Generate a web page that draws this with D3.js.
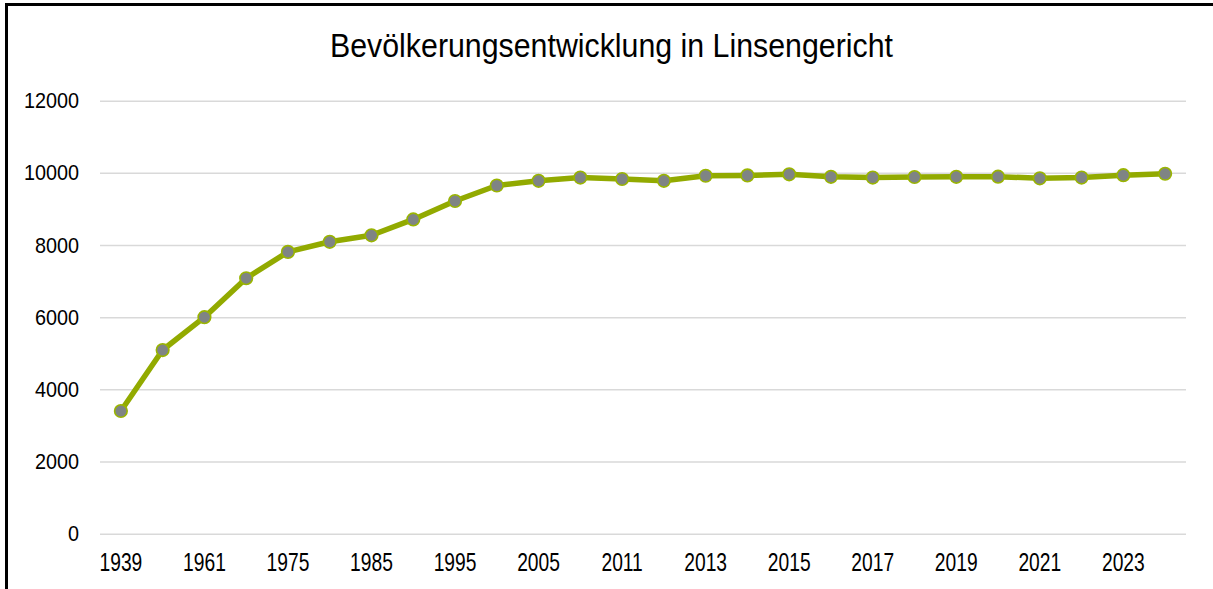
<!DOCTYPE html>
<html>
<head>
<meta charset="utf-8">
<script src="https://cdn.jsdelivr.net/npm/d3@7"></script>
<style>
  body { margin: 0; background: #fff; }
  svg text { font-family: "Liberation Sans", Arial, sans-serif; fill: #000; }
</style>
</head>
<body>
<svg id="chart"></svg>
<script>
const years = ["1939", "1946", "1961", "1970", "1975", "1980", "1985", "1990", "1995", "2000", "2005", "2010",
  "2011", "2012", "2013", "2014", "2015", "2016", "2017", "2018", "2019", "2020", "2021", "2022", "2023", "2024"];
const population = [3400, 5090, 6000, 7080, 7810, 8090, 8270, 8710, 9220, 9650, 9780, 9870,
  9830, 9780, 9920, 9930, 9960, 9890, 9870, 9885, 9890, 9895, 9850, 9870, 9935, 9975];
const yTicks = [0, 2000, 4000, 6000, 8000, 10000, 12000];

const width = 1213;
const height = 589;
const margin = { top: 100.7, right: 27, bottom: 55.3, left: 100 };

const svg = d3.select("#chart").attr("width", width).attr("height", height);

// squeeze text horizontally, Arial Narrow look
function narrow(sel, factor) {
    sel.each(function () {
        const w = this.getComputedTextLength();
        d3.select(this).attr("textLength", w * factor).attr("lengthAdjust", "spacingAndGlyphs");
    });
}

// frame (top + left only)
svg.append("line").attr("x1", 5).attr("x2", width).attr("y1", 4.5).attr("y2", 4.5)
  .attr("stroke", "#000").attr("stroke-width", 3);
svg.append("line").attr("x1", 6.5).attr("x2", 6.5).attr("y1", 3).attr("y2", height)
  .attr("stroke", "#000").attr("stroke-width", 3);

svg.append("text")
  .attr("x", 611.5).attr("y", 57)
  .attr("text-anchor", "middle")
  .style("font-size", "32.5px")
  .attr("textLength", 563)
  .attr("lengthAdjust", "spacingAndGlyphs")
  .text("Bevölkerungsentwicklung in Linsengericht");

const x = d3.scaleBand().domain(years).range([margin.left, width - margin.right]);
const y = d3.scaleLinear().domain([0, 12000]).range([height - margin.bottom, margin.top]);

// gridlines
svg.append("g")
  .attr("transform", `translate(${margin.left},0)`)
  .call(d3.axisLeft(y).tickValues(yTicks).tickSize(-(width - margin.right - margin.left)).tickFormat(""))
  .call(g => g.select(".domain").remove())
  .call(g => g.selectAll("line").attr("stroke", "#d9d9d9").attr("stroke-width", 1.5));

// y labels
svg.append("g")
  .attr("transform", `translate(${margin.left},0)`)
  .call(d3.axisLeft(y).tickValues(yTicks).tickSize(0).tickPadding(21).tickFormat(d3.format("d")))
  .call(g => g.select(".domain").remove())
  .call(g => g.selectAll("text").style("font-size", "22px").call(narrow, 0.9));

// x labels (every second category)
svg.append("g")
  .attr("transform", `translate(0,${height - margin.bottom})`)
  .call(d3.axisBottom(x).tickSize(0).tickPadding(20)
    .tickFormat((d, i) => i % 2 === 0 ? d : ""))
  .call(g => g.select(".domain").remove())
  .call(g => g.selectAll("text").style("font-size", "25px").call(narrow, 0.77));

const cx = d => x(d) + x.bandwidth() / 2;

svg.append("path")
  .datum(years)
  .attr("fill", "none")
  .attr("stroke", "#92aa00")
  .attr("stroke-width", 5.5)
  .attr("stroke-linejoin", "round")
  .attr("d", d3.line().x(d => cx(d)).y((d, i) => y(population[i])));

svg.append("g")
  .selectAll("circle")
  .data(years)
  .join("circle")
  .attr("cx", d => cx(d))
  .attr("cy", (d, i) => y(population[i]))
  .attr("r", 6.3)
  .attr("fill", "#7f8484")
  .attr("stroke", "#9ab500")
  .attr("stroke-width", 1.6);
</script>
</body>
</html>
